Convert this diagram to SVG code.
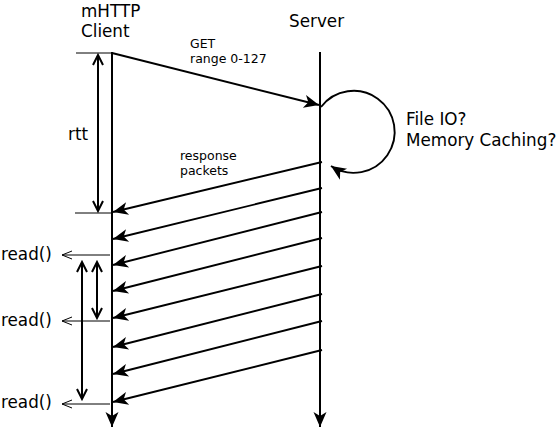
<svg xmlns="http://www.w3.org/2000/svg" width="560" height="432" viewBox="0 0 560 432">
<style>
text{font-family:"DejaVu Sans",sans-serif;fill:#000}
.big{font-size:16.8px}
.small{font-size:12.5px}
.life{stroke:#000;stroke-width:2;fill:none}
.msg{stroke:#000;stroke-width:1.9;fill:none}
.thin{stroke:#000;stroke-width:1;fill:none}
.dim{stroke:#000;stroke-width:2;fill:none}
</style>
<defs>
<marker id="fill" viewBox="-16 -8 18 16" refX="0" refY="0" markerWidth="18" markerHeight="16" markerUnits="userSpaceOnUse" orient="auto">
<path d="M0,0 L-15,-6.5 L-11,0 L-15,6.5 Z" fill="#000"/>
</marker>
<marker id="open" viewBox="-12 -7 14 14" refX="0" refY="0" markerWidth="14" markerHeight="14" markerUnits="userSpaceOnUse" orient="auto-start-reverse">
<path d="M-10,-5 L0,0 L-10,5" fill="none" stroke="#000" stroke-width="2"/>
</marker>
<marker id="thinopen" viewBox="-12 -6 14 12" refX="0" refY="0" markerWidth="14" markerHeight="12" markerUnits="userSpaceOnUse" orient="auto">
<path d="M-10,-4 L0,0 L-10,4" fill="none" stroke="#000" stroke-width="1"/>
</marker>
</defs>

<g id="client">
<text class="big" x="81" y="16.5">mHTTP</text>
<text class="big" x="81" y="37">Client</text>
<line class="life" x1="112" y1="52" x2="112" y2="427" marker-end="url(#fill)"/>
</g>

<g id="server">
<text class="big" x="289" y="27">Server</text>
<line class="life" x1="320" y1="52" x2="320" y2="427" marker-end="url(#fill)"/>
</g>

<g id="labels">
<text class="small" x="190" y="48">GET</text>
<text class="small" x="190" y="63">range 0-127</text>
<text class="big" x="406" y="125">File IO?</text>
<text class="big" x="406" y="146">Memory Caching?</text>
<text class="small" x="180" y="160">response</text>
<text class="small" x="180" y="175">packets</text>
<text class="big" x="68" y="140">rtt</text>
<text class="big" x="1" y="260">read()</text>
<text class="big" x="1" y="326">read()</text>
<text class="big" x="1" y="408">read()</text>
</g>

<g id="connectors">
<line class="msg" x1="112" y1="53" x2="319" y2="105" marker-end="url(#fill)"/>
<path class="msg" stroke-width="1.6" d="M321,107 A41 41 0 1 1 331,166" marker-end="url(#fill)"/>
<line class="msg" x1="322" y1="162" x2="113" y2="212" marker-end="url(#fill)"/>
<line class="msg" x1="322" y1="188" x2="113" y2="239" marker-end="url(#fill)"/>
<line class="msg" x1="322" y1="212" x2="113" y2="265" marker-end="url(#fill)"/>
<line class="msg" x1="322" y1="238" x2="113" y2="291" marker-end="url(#fill)"/>
<line class="msg" x1="322" y1="266" x2="113" y2="318" marker-end="url(#fill)"/>
<line class="msg" x1="322" y1="294" x2="113" y2="347" marker-end="url(#fill)"/>
<line class="msg" x1="322" y1="321" x2="113" y2="374" marker-end="url(#fill)"/>
<line class="msg" x1="322" y1="350" x2="113" y2="402" marker-end="url(#fill)"/>
<line class="thin" x1="76" y1="53" x2="112" y2="53"/>
<line class="thin" x1="75" y1="213" x2="112" y2="213"/>
<line class="dim" x1="98" y1="55" x2="98" y2="211" marker-start="url(#open)" marker-end="url(#open)"/>
<line class="thin" x1="110" y1="255" x2="62" y2="255" marker-end="url(#thinopen)"/>
<line class="thin" x1="110" y1="321" x2="62" y2="321" marker-end="url(#thinopen)"/>
<line class="thin" x1="110" y1="404" x2="62" y2="404" marker-end="url(#thinopen)"/>
<line class="dim" x1="97" y1="262" x2="97" y2="318" marker-start="url(#open)" marker-end="url(#open)"/>
<line class="dim" x1="82" y1="262" x2="82" y2="399" marker-start="url(#open)" marker-end="url(#open)"/>
</g>
</svg>
